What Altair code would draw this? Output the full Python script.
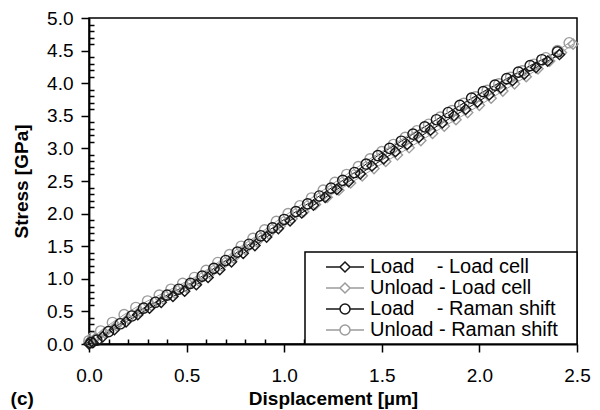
import altair as alt
import pandas as pd

NB = "\u00a0"
END = "\u2800"
series_names = [
    "Load" + NB * 3 + " - Load cell" + END,
    "Unload - Load cell" + END,
    "Load" + NB * 3 + " - Raman shift" + END,
    "Unload - Raman shift" + END,
]
series_colors = ["#161616", "#9c9c9c", "#161616", "#9c9c9c"]
point_shapes = ["diamond", "diamond", "circle", "circle"]
# legend symbols: short line with the marker on it
legend_shapes = [
    "M0.6,0H2M3,0H4.4M2.5,-0.5L3,0L2.5,0.5L2,0Z",
    "M0.6,0H2M3,0H4.4M2.5,-0.5L3,0L2.5,0.5L2,0Z",
    "M0.6,0H2M3,0H4.4M3,0A0.5,0.5,0,1,1,2,0A0.5,0.5,0,1,1,3,0Z",
    "M0.6,0H2M3,0H4.4M3,0A0.5,0.5,0,1,1,2,0A0.5,0.5,0,1,1,3,0Z",
]

# Load - Load cell
x1 = [0.00, 0.02, 0.07, 0.13, 0.19, 0.25, 0.31, 0.37, 0.43, 0.49, 0.55, 0.61, 0.67, 0.73,
      0.79, 0.85, 0.91, 0.97, 1.03, 1.09, 1.15, 1.21, 1.27, 1.33, 1.39, 1.45, 1.51, 1.57,
      1.63, 1.69, 1.75, 1.81, 1.87, 1.93, 1.99, 2.05, 2.11, 2.17, 2.23, 2.29, 2.35, 2.41]
y1 = [0.00, 0.02, 0.11, 0.22, 0.34, 0.45, 0.55, 0.64, 0.73, 0.81, 0.91, 1.02, 1.14, 1.26,
      1.39, 1.51, 1.64, 1.77, 1.89, 2.01, 2.13, 2.25, 2.37, 2.49, 2.61, 2.73, 2.84, 2.95,
      3.06, 3.17, 3.28, 3.39, 3.50, 3.60, 3.71, 3.82, 3.93, 4.04, 4.14, 4.24, 4.34, 4.44]

# Unload - Load cell
x2 = [2.48, 2.42, 2.36, 2.30, 2.24, 2.18, 2.12, 2.06, 2.00, 1.94, 1.88, 1.82, 1.76, 1.70,
      1.64, 1.58, 1.52, 1.46, 1.40, 1.34, 1.28, 1.22, 1.16, 1.10, 1.04, 0.98, 0.92, 0.86,
      0.80, 0.74, 0.68, 0.62, 0.56, 0.50, 0.44, 0.38, 0.32, 0.26, 0.20, 0.14, 0.08, 0.03, 0.00]
y2 = [4.60, 4.47, 4.34, 4.22, 4.10, 3.99, 3.88, 3.77, 3.66, 3.55, 3.44, 3.34, 3.23, 3.12,
      3.01, 2.90, 2.80, 2.69, 2.58, 2.47, 2.36, 2.25, 2.14, 2.03, 1.92, 1.81, 1.69, 1.57,
      1.45, 1.32, 1.20, 1.08, 0.97, 0.87, 0.78, 0.69, 0.59, 0.50, 0.39, 0.28, 0.17, 0.08, 0.03]

# Load - Raman shift
x3 = [0.01, 0.04, 0.10, 0.16, 0.22, 0.28, 0.34, 0.40, 0.46, 0.52, 0.58, 0.64, 0.70, 0.76,
      0.82, 0.88, 0.94, 1.00, 1.06, 1.12, 1.18, 1.24, 1.30, 1.36, 1.42, 1.48, 1.54, 1.60,
      1.66, 1.72, 1.78, 1.84, 1.90, 1.96, 2.02, 2.08, 2.14, 2.20, 2.26, 2.32, 2.40]
y3 = [0.02, 0.06, 0.19, 0.31, 0.43, 0.55, 0.64, 0.75, 0.84, 0.93, 1.04, 1.16, 1.28, 1.41,
      1.53, 1.66, 1.78, 1.91, 2.03, 2.15, 2.27, 2.39, 2.51, 2.63, 2.76, 2.89, 3.00, 3.11,
      3.22, 3.33, 3.44, 3.55, 3.66, 3.77, 3.87, 3.97, 4.07, 4.17, 4.27, 4.36, 4.48]

# Unload - Raman shift
x4 = [2.46, 2.40, 2.34, 2.28, 2.22, 2.16, 2.10, 2.04, 1.98, 1.92, 1.86, 1.80, 1.74, 1.68,
      1.62, 1.56, 1.50, 1.44, 1.38, 1.32, 1.26, 1.20, 1.14, 1.08, 1.02, 0.96, 0.90, 0.84,
      0.78, 0.72, 0.66, 0.60, 0.54, 0.48, 0.42, 0.36, 0.30, 0.24, 0.18, 0.12, 0.06, 0.02, 0.00]
y4 = [4.62, 4.50, 4.39, 4.29, 4.19, 4.09, 3.99, 3.89, 3.79, 3.69, 3.58, 3.48, 3.37, 3.27,
      3.17, 3.06, 2.95, 2.84, 2.72, 2.60, 2.48, 2.36, 2.24, 2.12, 2.00, 1.88, 1.75, 1.62,
      1.50, 1.37, 1.25, 1.13, 1.02, 0.93, 0.84, 0.75, 0.66, 0.56, 0.45, 0.33, 0.20, 0.10, 0.05]

x_major = [0.0, 0.5, 1.0, 1.5, 2.0, 2.5]
x_minor = [0.1, 0.2, 0.3, 0.4, 0.6, 0.7, 0.8, 0.9, 1.1, 1.2, 1.3, 1.4, 1.6, 1.7, 1.8, 1.9,
           2.1, 2.2, 2.3, 2.4]
y_major = [0.0, 0.5, 1.0, 1.5, 2.0, 2.5, 3.0, 3.5, 4.0, 4.5, 5.0]
y_minor = [0.1, 0.2, 0.3, 0.4, 0.6, 0.7, 0.8, 0.9, 1.1, 1.2, 1.3, 1.4, 1.6, 1.7, 1.8, 1.9,
           2.1, 2.2, 2.3, 2.4, 2.6, 2.7, 2.8, 2.9, 3.1, 3.2, 3.3, 3.4, 3.6, 3.7, 3.8, 3.9,
           4.1, 4.2, 4.3, 4.4, 4.6, 4.7, 4.8, 4.9]

rows = []
for name, xs, ys in [(series_names[1], x2, y2), (series_names[3], x4, y4),
                     (series_names[0], x1, y1), (series_names[2], x3, y3)]:
    for i, (a, b) in enumerate(zip(xs, ys)):
        rows.append({"series": name, "x": a, "y": b, "idx": i})
df = pd.DataFrame(rows)

FONT = "Liberation Sans"
xs_scale = alt.Scale(domain=[0, 2.5], nice=False, zero=False)
ys_scale = alt.Scale(domain=[0, 5], nice=False, zero=False)
color_scale = alt.Scale(domain=series_names, range=series_colors)

x_major_axis = alt.Axis(values=x_major, format=".1f", tickSize=8, labelPadding=14,
                        labelFontSize=19, labelFlush=False, labelOverlap=False,
                        title="Displacement [µm]", titleFontSize=19, titleFontWeight="bold",
                        titlePadding=4, grid=False, orient="bottom")
y_major_axis = alt.Axis(values=y_major, format=".1f", tickSize=8, labelPadding=8,
                        labelFontSize=19, labelFlush=False, labelOverlap=False,
                        title="Stress [GPa]", titleFontSize=19, titleFontWeight="bold",
                        titlePadding=15, grid=False, orient="left")
x_minor_axis = alt.Axis(values=x_minor, tickSize=5, offset=-5, labels=False, domain=False,
                        title=None, grid=False, orient="bottom")
y_minor_axis = alt.Axis(values=y_minor, tickSize=5, offset=-5, labels=False, domain=False,
                        title=None, grid=False, orient="left")

base = alt.Chart(df)

lines = base.mark_line(strokeWidth=1).encode(
    x=alt.X("x:Q", scale=xs_scale, axis=x_major_axis),
    y=alt.Y("y:Q", scale=ys_scale, axis=y_major_axis),
    color=alt.Color("series:N", scale=color_scale, legend=None),
    detail="series:N",
    order="idx:Q",
)

points = base.mark_point(filled=False, strokeWidth=1.4, size=105, opacity=1).encode(
    x=alt.X("x:Q", scale=xs_scale, axis=x_minor_axis),
    y=alt.Y("y:Q", scale=ys_scale, axis=y_minor_axis),
    color=alt.Color("series:N", scale=color_scale, legend=None),
    shape=alt.Shape("series:N", scale=alt.Scale(domain=series_names, range=point_shapes),
                    legend=None),
)

legend_layer = base.mark_point(filled=False, strokeWidth=1.5, size=400, opacity=1).encode(
    x=alt.X("x:Q", scale=xs_scale, axis=None),
    y=alt.Y("y:Q", scale=ys_scale, axis=None),
    stroke=alt.Stroke("series:N", scale=alt.Scale(domain=series_names, range=series_colors),
                      legend=alt.Legend(title=None)),
    shape=alt.Shape("series:N", scale=alt.Scale(domain=series_names, range=legend_shapes),
                    legend=alt.Legend(title=None)),
).transform_filter("datum.x < -1")

chart = alt.layer(lines, points, legend_layer).resolve_scale(
    shape="independent", stroke="independent"
).resolve_axis(
    x="independent", y="independent"
).properties(
    width=488, height=326,
    padding={"left": 81, "top": 10, "right": 15, "bottom": 66},
    autosize=alt.AutoSizeParams(type="none"),
    title=alt.TitleParams(text="(c)", orient="bottom", anchor="start", frame="bounds",
                          fontSize=19, fontWeight="bold", font=FONT, color="black",
                          offset=-18, dx=-2),
).configure(
    font=FONT,
).configure_view(
    stroke="black", strokeWidth=1.5,
).configure_axis(
    domainColor="black", domainWidth=1.8, tickColor="black", tickWidth=1.5,
    labelColor="black", titleColor="black", labelFont=FONT, titleFont=FONT,
).configure_legend(
    orient="bottom-right", offset=0, padding=4, strokeColor="black", strokeWidth=1.5,
    fillColor="white", labelFontSize=20, labelFont=FONT, labelColor="black",
    symbolSize=400, symbolStrokeWidth=1.5, labelOffset=39, rowPadding=0,
    symbolFillColor="transparent", labelLimit=400,
)

chart.save("out.html", embed_options={"renderer": "svg", "actions": False})
